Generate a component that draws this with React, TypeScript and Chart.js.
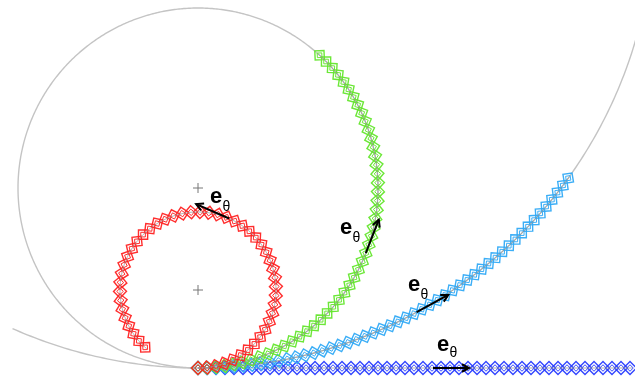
import React, { useEffect, useRef } from 'react';
import { Chart, registerables } from 'chart.js';
Chart.register(...registerables);

const W = 635;
const H = 377;

// geometry of the construction (plot units = pixels)
const tangentX = 198;
const tangentY = 368;
const chainNames = ['red', 'green', 'sky', 'blue'];
const chainRadius = [78, 180, 456, 0]; // 0 = straight chain
const chainLength = [434, 434, 434, 434];
const chainColor = ['rgba(255,35,35,0.95)', 'rgba(100,230,45,0.95)', 'rgba(50,170,245,0.95)', 'rgba(40,60,255,0.95)'];
const linkStep = 9;
const linkSize = 6.5;

const guideRadius = [180, 456];
const guideStartDeg = [0, -24];
const guideEndDeg = [360, 75];

const centerMarkRadius = [180, 78];

const arrowAt = [213, 216, 228, 235];
const arrowLen = 36;
const arrowHead = 8;

const labelEX = [210, 340, 408, 437];
const labelEY = [203, 234, 291, 351];
const labelThX = [222.5, 352.5, 420.5, 449.5];
const labelThY = [211, 242, 299, 357];

function pointOn(R: number, s: number) {
  if (!R) return { x: tangentX + s, y: tangentY, ang: 0 };
  const t = s / R;
  return { x: tangentX + R * Math.sin(t), y: tangentY - R + R * Math.cos(t), ang: -t };
}

function circlePts(R: number, a0: number, a1: number) {
  const pts: { x: number; y: number }[] = [];
  for (let a = a0; a <= a1 + 1e-9; a += 1) {
    const t = (a * Math.PI) / 180;
    pts.push({ x: tangentX + R * Math.sin(t), y: tangentY - R + R * Math.cos(t) });
  }
  return pts;
}

const labelPlugin = {
  id: 'ethetaLabels',
  afterDatasetsDraw(chart: any) {
    const { ctx, scales } = chart;
    const xs = scales.x;
    const ys = scales.y;
    ctx.save();
    ctx.fillStyle = '#000';
    ctx.textAlign = 'left';
    ctx.textBaseline = 'alphabetic';
    for (let i = 0; i < labelEX.length; i++) {
      ctx.font = 'bold 22px "Liberation Sans", Arial, sans-serif';
      ctx.fillText('e', xs.getPixelForValue(labelEX[i]), ys.getPixelForValue(labelEY[i]));
      ctx.font = '14px "Liberation Sans", Arial, sans-serif';
      ctx.fillText('θ', xs.getPixelForValue(labelThX[i]), ys.getPixelForValue(labelThY[i]));
    }
    ctx.restore();
  },
};

export default function App() {
  const ref = useRef<HTMLCanvasElement | null>(null);
  useEffect(() => {
    document.body.style.margin = '0';
    const datasets: any[] = [];

    // arrows (top)
    chainRadius.forEach((R, i) => {
      const p = pointOn(R, arrowAt[i]);
      const dx = Math.cos(p.ang);
      const dy = Math.sin(p.ang);
      const tip = { x: p.x + arrowLen * dx, y: p.y + arrowLen * dy };
      const wing = (sgn: number) => {
        const a = p.ang + sgn * (28 * Math.PI) / 180;
        return { x: tip.x - arrowHead * Math.cos(a), y: tip.y - arrowHead * Math.sin(a) };
      };
      datasets.push({
        type: 'line',
        data: [{ x: p.x, y: p.y }, tip],
        borderColor: '#000',
        borderWidth: 2,
        pointRadius: 0,
        fill: false,
      });
      datasets.push({
        type: 'line',
        data: [wing(1), tip, wing(-1)],
        borderColor: '#000',
        borderWidth: 2,
        pointRadius: 0,
        fill: false,
      });
    });

    // chains
    chainRadius.forEach((R, i) => {
      const pts: any[] = [];
      const rot: number[] = [];
      const n = Math.floor(chainLength[i] / linkStep);
      for (let k = 0; k <= n; k++) {
        const p = pointOn(R, k * linkStep);
        pts.push({ x: p.x, y: p.y });
        rot.push((p.ang * 180) / Math.PI);
      }
      const line: any[] = [];
      for (let s = 0; s <= chainLength[i]; s += 2) {
        const p = pointOn(R, s);
        line.push({ x: p.x, y: p.y });
      }
      datasets.push({
        type: 'line',
        label: chainNames[i] + ' axis',
        data: line,
        borderColor: 'rgba(150,150,150,0.8)',
        borderWidth: 1,
        pointRadius: 0,
        fill: false,
        tension: 0.001,
      });
      datasets.push({
        type: 'scatter',
        label: chainNames[i] + ' inner',
        data: pts,
        pointStyle: 'rectRot',
        pointRadius: linkSize * 0.5,
        rotation: (c: any) => rot[c.dataIndex] ?? 0,
        borderColor: chainColor[i],
        backgroundColor: 'rgba(0,0,0,0)',
        borderWidth: 1,
      });
      datasets.push({
        type: 'scatter',
        label: chainNames[i],
        data: pts,
        pointStyle: 'rectRot',
        pointRadius: linkSize,
        rotation: (c: any) => rot[c.dataIndex] ?? 0,
        borderColor: chainColor[i],
        backgroundColor: 'rgba(0,0,0,0)',
        borderWidth: 1.4,
      });
    });

    // centre marks
    datasets.push({
      type: 'scatter',
      data: centerMarkRadius.map((R) => ({ x: tangentX, y: tangentY - R })),
      pointStyle: 'cross',
      pointRadius: 5,
      borderColor: '#777',
      borderWidth: 1,
    });

    // guide circles (bottom)
    guideRadius.forEach((R, i) => {
      datasets.push({
        type: 'line',
        data: circlePts(R, guideStartDeg[i], guideEndDeg[i]),
        borderColor: '#c4c4c4',
        borderWidth: 1.4,
        pointRadius: 0,
        fill: false,
        tension: 0.001,
      });
    });

    const chart = new Chart(ref.current as HTMLCanvasElement, {
      type: 'scatter',
      data: { datasets },
      options: {
        animation: false,
        responsive: false,
        maintainAspectRatio: false,
        devicePixelRatio: 1,
        layout: { padding: 0, autoPadding: false },
        plugins: { legend: { display: false }, tooltip: { enabled: false } },
        events: [],
        scales: {
          x: { type: 'linear', min: 0, max: W, display: false },
          y: { type: 'linear', min: 0, max: H, reverse: true, display: false },
        },
      },
      plugins: [labelPlugin],
    });
    return () => chart.destroy();
  }, []);
  return (
    <div style={{ position: 'fixed', left: 0, top: 0, width: W, height: H, background: '#fff' }}>
      <canvas ref={ref} width={W} height={H} style={{ display: 'block' }} />
    </div>
  );
}
